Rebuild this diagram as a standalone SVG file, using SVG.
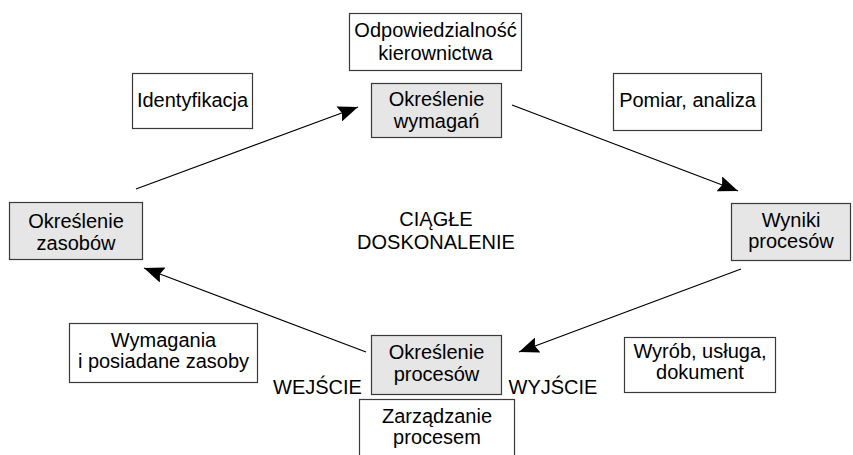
<svg xmlns="http://www.w3.org/2000/svg" width="853" height="455" viewBox="0 0 853 455">
<style>
  .box{fill:#fff;stroke:#3a3a3a;stroke-width:1.2}
  .gray{fill:#e6e6e6}
  text{font-family:"Liberation Sans",Arial,sans-serif;font-size:20px;fill:#000;text-anchor:middle}
  .conn{stroke:#000;stroke-width:1.3;fill:none;marker-end:url(#ah)}
</style>
<defs>
  <marker id="ah" markerUnits="userSpaceOnUse" markerWidth="22" markerHeight="16" refX="20" refY="8" orient="auto">
    <path d="M0,0 L20,8 L0,16 L3,8 Z" fill="#000"/>
  </marker>
</defs>
<rect width="853" height="455" fill="#fff"/>
<g id="connectors">
  <line class="conn" x1="136" y1="189" x2="358" y2="107"/>
  <line class="conn" x1="512" y1="105" x2="738" y2="191"/>
  <line class="conn" x1="741" y1="269" x2="519" y2="352"/>
  <line class="conn" x1="366" y1="352" x2="144" y2="268"/>
</g>
<g id="odpowiedzialnosc">
  <rect class="box" x="349.5" y="13.5" width="172" height="57"/>
  <text x="435.5" y="37">Odpowiedzialność</text>
  <text x="435.5" y="60">kierownictwa</text>
</g>
<g id="okreslenie-wymagan">
  <rect class="box gray" x="371.5" y="83.5" width="130" height="54"/>
  <text x="436.5" y="106">Określenie</text>
  <text x="436.5" y="128">wymagań</text>
</g>
<g id="identyfikacja">
  <rect class="box" x="132.5" y="73.5" width="120" height="55"/>
  <text x="192.5" y="107">Identyfikacja</text>
</g>
<g id="pomiar">
  <rect class="box" x="613.5" y="73.5" width="148" height="57"/>
  <text x="687.5" y="107">Pomiar, analiza</text>
</g>
<g id="okreslenie-zasobow">
  <rect class="box gray" x="9.5" y="202.5" width="133" height="57"/>
  <text x="76" y="228">Określenie</text>
  <text x="76" y="250">zasobów</text>
</g>
<g id="wyniki-procesow">
  <rect class="box gray" x="731.5" y="203.5" width="119" height="57"/>
  <text x="791" y="227">Wyniki</text>
  <text x="791" y="248">procesów</text>
</g>
<g id="ciagle">
  <text x="436" y="226">CIĄGŁE</text>
  <text x="436" y="249">DOSKONALENIE</text>
</g>
<g id="wymagania">
  <rect class="box" x="69.5" y="323.5" width="188" height="59"/>
  <text x="163.5" y="347">Wymagania</text>
  <text x="163.5" y="368">i posiadane zasoby</text>
</g>
<g id="okreslenie-procesow">
  <rect class="box gray" x="371.5" y="335.5" width="130" height="59"/>
  <text x="436.5" y="359">Określenie</text>
  <text x="436.5" y="381">procesów</text>
</g>
<g id="wejscie">
  <text x="317.5" y="394">WEJŚCIE</text>
</g>
<g id="wyjscie">
  <text x="553" y="394">WYJŚCIE</text>
</g>
<g id="zarzadzanie">
  <rect class="box" x="359.5" y="399.5" width="155" height="70"/>
  <text x="437" y="423">Zarządzanie</text>
  <text x="437" y="444">procesem</text>
</g>
<g id="wyrob">
  <rect class="box" x="624.5" y="337.5" width="151" height="55"/>
  <text x="700" y="358">Wyrób, usługa,</text>
  <text x="700" y="379">dokument</text>
</g>
</svg>
